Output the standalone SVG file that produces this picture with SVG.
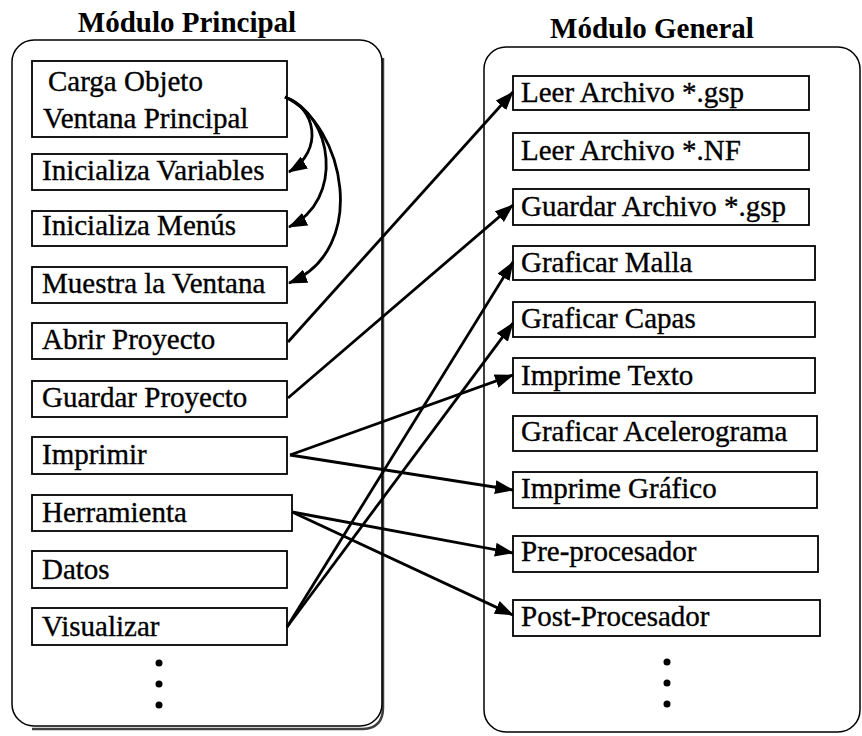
<svg xmlns="http://www.w3.org/2000/svg" width="862" height="736" viewBox="0 0 862 736">
<style>
.panel{fill:none;stroke:#000;stroke-width:1.5}
.box{fill:#fff;stroke:#000;stroke-width:1.8}
.t{font-family:"Liberation Serif","Times New Roman",serif;font-size:29px;fill:#000;stroke:#000;stroke-width:0.35}
.title{font-family:"Liberation Serif","Times New Roman",serif;font-size:29px;font-weight:bold;fill:#000;text-anchor:middle}
.c{fill:none;stroke:#000;stroke-width:2.8}
.dot{fill:#000}
</style>
<defs>
<marker id="ah" markerWidth="19" markerHeight="14" refX="18" refY="7" orient="auto" markerUnits="userSpaceOnUse">
<path d="M0,0 L19,7 L0,14 Z" fill="#000"/>
</marker>
</defs>
<rect width="862" height="736" fill="#fff"/>
<text class="title" x="187" y="32">Módulo Principal</text>
<text class="title" x="652" y="38">Módulo General</text>
<g id="panel-principal">
<rect class="panel" x="12" y="40" width="370" height="686" rx="22"/>
<path d="M383,58 L383,708 Q383,728 363,729 L32,729" fill="none" stroke="#000" stroke-width="2.5" opacity="0.75"/>
</g>
<g id="panel-general">
<rect class="panel" x="484" y="47" width="376" height="685" rx="22"/>
</g>
<g id="n-carga"><rect class="box" x="32" y="61" width="255" height="76"/><text class="t" x="48" y="91">Carga Objeto</text><text class="t" x="43" y="128">Ventana Principal</text></g>
<g id="n-inivar"><rect class="box" x="32" y="154" width="255" height="36"/><text class="t" x="42" y="180">Inicializa Variables</text></g>
<g id="n-inimenu"><rect class="box" x="32" y="211" width="255" height="35"/><text class="t" x="42" y="235">Inicializa Menús</text></g>
<g id="n-muestra"><rect class="box" x="32" y="267" width="255" height="36"/><text class="t" x="42" y="293">Muestra la Ventana</text></g>
<g id="n-abrir"><rect class="box" x="32" y="323" width="255" height="36"/><text class="t" x="42" y="349">Abrir Proyecto</text></g>
<g id="n-guardar"><rect class="box" x="32" y="381" width="255" height="36"/><text class="t" x="42" y="407">Guardar Proyecto</text></g>
<g id="n-imprimir"><rect class="box" x="32" y="437" width="255" height="37"/><text class="t" x="42" y="464">Imprimir</text></g>
<g id="n-herramienta"><rect class="box" x="32" y="495" width="260" height="36"/><text class="t" x="42" y="522">Herramienta</text></g>
<g id="n-datos"><rect class="box" x="32" y="551" width="255" height="37"/><text class="t" x="42" y="579">Datos</text></g>
<g id="n-visualizar"><rect class="box" x="32" y="608" width="255" height="37"/><text class="t" x="42" y="636">Visualizar</text></g>
<g id="dots-left"><circle class="dot" cx="159" cy="663" r="3.5"/><circle class="dot" cx="159" cy="684" r="3.5"/><circle class="dot" cx="159" cy="705" r="3.5"/></g>
<g id="n-leergsp"><rect class="box" x="513" y="76" width="296" height="34"/><text class="t" x="521" y="102">Leer Archivo *.gsp</text></g>
<g id="n-leernf"><rect class="box" x="513" y="133" width="296" height="37"/><text class="t" x="521" y="160">Leer Archivo *.NF</text></g>
<g id="n-guardargsp"><rect class="box" x="513" y="189" width="296" height="36"/><text class="t" x="521" y="216">Guardar Archivo *.gsp</text></g>
<g id="n-malla"><rect class="box" x="513" y="246" width="302" height="34"/><text class="t" x="521" y="272">Graficar Malla</text></g>
<g id="n-capas"><rect class="box" x="513" y="302" width="302" height="35"/><text class="t" x="521" y="328">Graficar Capas</text></g>
<g id="n-imptexto"><rect class="box" x="513" y="358" width="302" height="35"/><text class="t" x="521" y="385">Imprime Texto</text></g>
<g id="n-acelero"><rect class="box" x="513" y="416" width="304" height="35"/><text class="t" x="521" y="441">Graficar Acelerograma</text></g>
<g id="n-impgraf"><rect class="box" x="513" y="472" width="304" height="36"/><text class="t" x="521" y="498">Imprime Gráfico</text></g>
<g id="n-pre"><rect class="box" x="513" y="536" width="305" height="36"/><text class="t" x="521" y="561">Pre-procesador</text></g>
<g id="n-post"><rect class="box" x="513" y="600" width="307" height="36"/><text class="t" x="521" y="626">Post-Procesador</text></g>
<g id="dots-right"><circle class="dot" cx="667" cy="662" r="3.5"/><circle class="dot" cx="667" cy="683" r="3.5"/><circle class="dot" cx="667" cy="704" r="3.5"/></g>
<g id="connectors">
<path class="c" marker-end="url(#ah)" d="M285,97 C315,107 325,150 289,172"/>
<path class="c" marker-end="url(#ah)" d="M285,97 C333,115 345,200 289,227"/>
<path class="c" marker-end="url(#ah)" d="M285,97 C345,125 370,250 289,283"/>
<path class="c" marker-end="url(#ah)" d="M288,342 L513,92"/>
<path class="c" marker-end="url(#ah)" d="M288,398 L513,205"/>
<path class="c" marker-end="url(#ah)" d="M290,455 L513,375"/>
<path class="c" marker-end="url(#ah)" d="M290,455 L513,490"/>
<path class="c" marker-end="url(#ah)" d="M292,512 L513,553"/>
<path class="c" marker-end="url(#ah)" d="M292,512 L513,615"/>
<path class="c" marker-end="url(#ah)" d="M287,627 L513,262"/>
<path class="c" marker-end="url(#ah)" d="M287,627 L513,323"/>
</g>
</svg>
